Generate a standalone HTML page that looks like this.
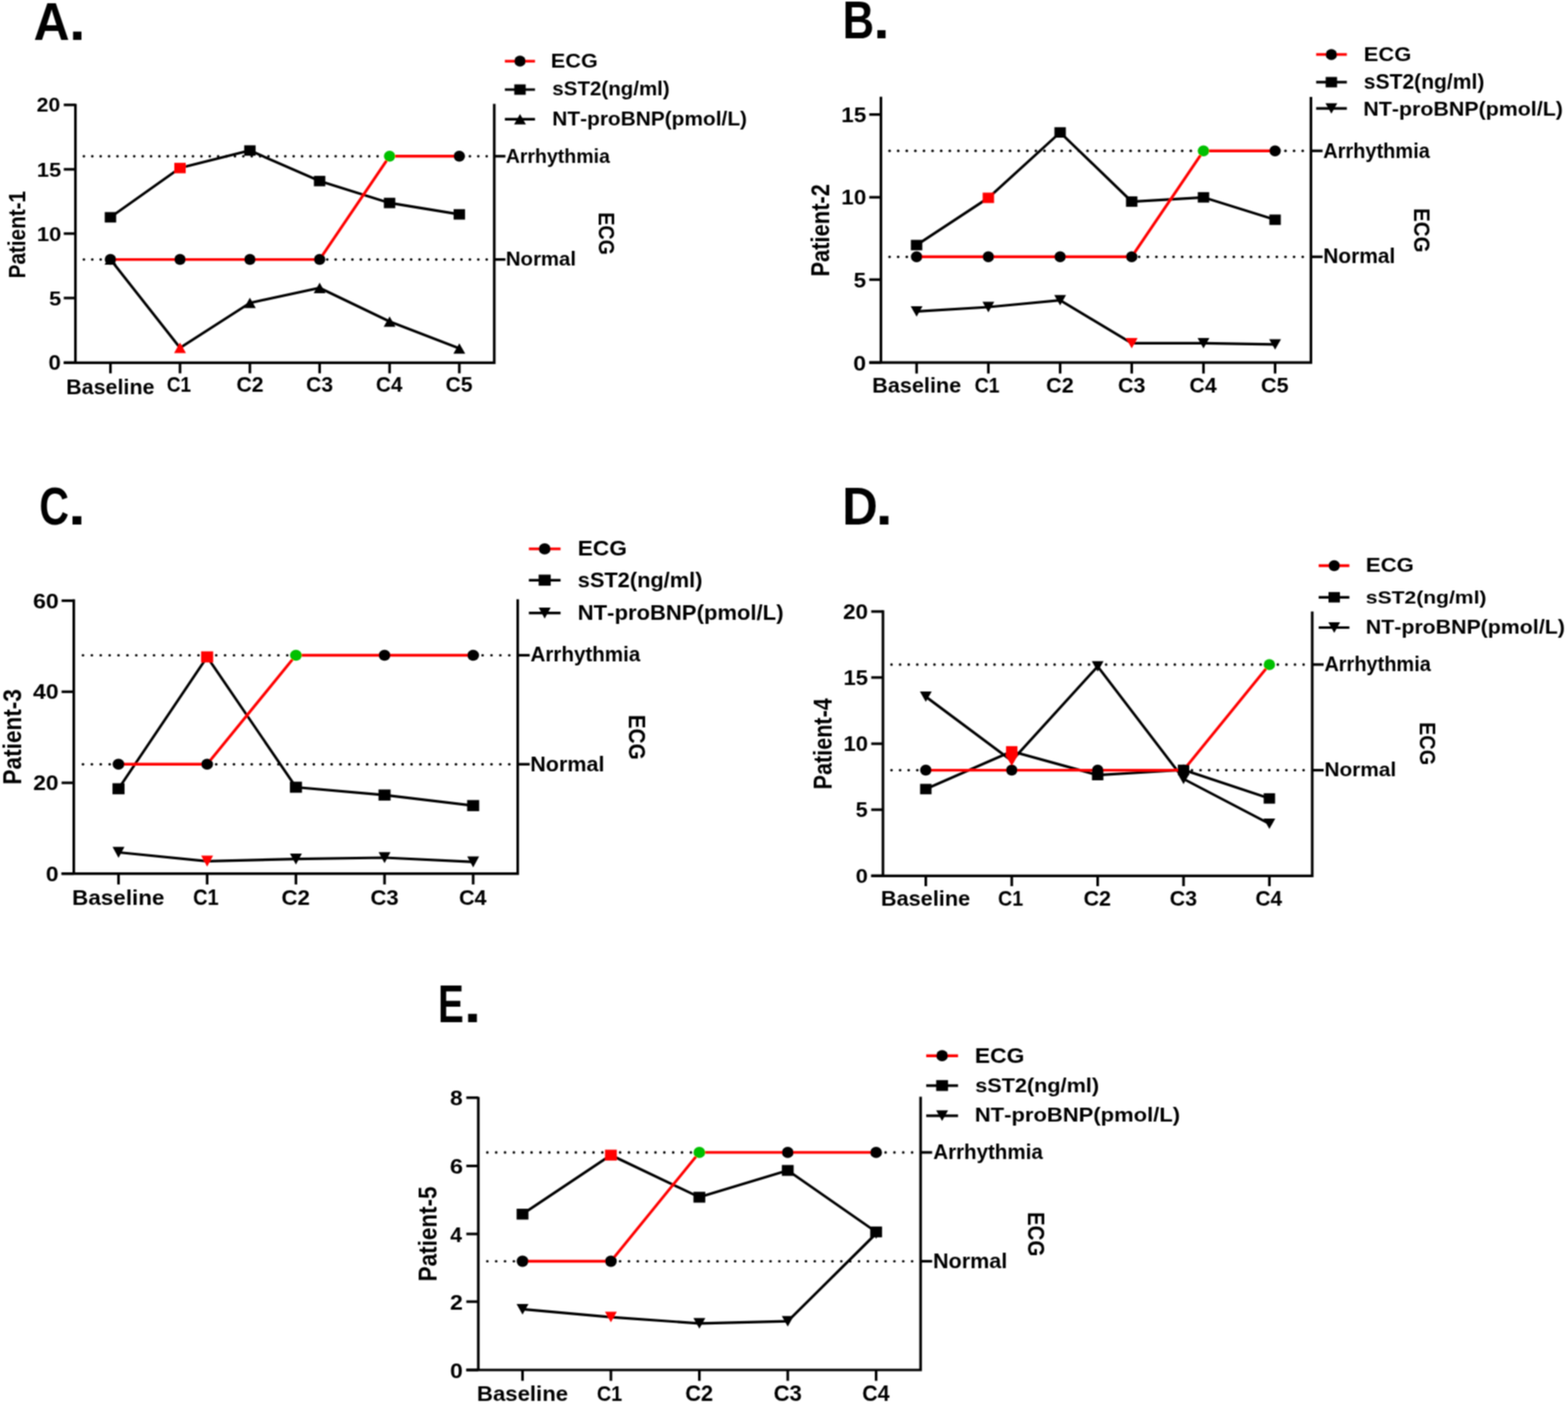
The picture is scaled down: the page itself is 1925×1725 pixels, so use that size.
<!DOCTYPE html>
<html><head><meta charset="utf-8"><title>Figure</title>
<style>html,body{margin:0;padding:0;background:#fff;}svg{display:block;}</style>
</head><body>
<svg width="1925" height="1725" viewBox="0 0 1925 1725">
<defs><filter id="soft" x="0" y="0" width="100%" height="100%" filterUnits="userSpaceOnUse"><feConvolveMatrix order="3" kernelMatrix="1 2 1 2 4 2 1 2 1" divisor="16.0" edgeMode="duplicate" preserveAlpha="false"/></filter></defs>
<rect width="1925" height="1725" fill="#fff"/>
<g filter="url(#soft)">
<g>
<path d="M92.60,127.50 V445.30 M78.30,445.30 H606.80 V127.50" fill="none" stroke="#000" stroke-width="3.2" stroke-linejoin="miter" stroke-linecap="butt"/>
<line x1="78.30" y1="128.80" x2="92.60" y2="128.80" stroke="#000" stroke-width="3.2" />
<line x1="78.30" y1="207.90" x2="92.60" y2="207.90" stroke="#000" stroke-width="3.2" />
<line x1="78.30" y1="286.80" x2="92.60" y2="286.80" stroke="#000" stroke-width="3.2" />
<line x1="78.30" y1="365.90" x2="92.60" y2="365.90" stroke="#000" stroke-width="3.2" />
<line x1="78.30" y1="445.30" x2="92.60" y2="445.30" stroke="#000" stroke-width="3.2" />
<line x1="135.60" y1="445.30" x2="135.60" y2="458.40" stroke="#000" stroke-width="3.2" />
<line x1="221.00" y1="445.30" x2="221.00" y2="458.40" stroke="#000" stroke-width="3.2" />
<line x1="306.80" y1="445.30" x2="306.80" y2="458.40" stroke="#000" stroke-width="3.2" />
<line x1="392.40" y1="445.30" x2="392.40" y2="458.40" stroke="#000" stroke-width="3.2" />
<line x1="478.30" y1="445.30" x2="478.30" y2="458.40" stroke="#000" stroke-width="3.2" />
<line x1="563.90" y1="445.30" x2="563.90" y2="458.40" stroke="#000" stroke-width="3.2" />
<line x1="606.80" y1="318.60" x2="620.50" y2="318.60" stroke="#000" stroke-width="3.2" />
<line x1="606.80" y1="191.80" x2="620.50" y2="191.80" stroke="#000" stroke-width="3.2" />
<circle cx="103.00" cy="318.60" r="1.6" fill="#000"/>
<circle cx="113.30" cy="318.60" r="1.6" fill="#000"/>
<circle cx="123.60" cy="318.60" r="1.6" fill="#000"/>
<circle cx="133.91" cy="318.60" r="1.6" fill="#000"/>
<circle cx="401.76" cy="318.60" r="1.6" fill="#000"/>
<circle cx="412.06" cy="318.60" r="1.6" fill="#000"/>
<circle cx="422.36" cy="318.60" r="1.6" fill="#000"/>
<circle cx="432.67" cy="318.60" r="1.6" fill="#000"/>
<circle cx="442.97" cy="318.60" r="1.6" fill="#000"/>
<circle cx="453.27" cy="318.60" r="1.6" fill="#000"/>
<circle cx="463.57" cy="318.60" r="1.6" fill="#000"/>
<circle cx="473.88" cy="318.60" r="1.6" fill="#000"/>
<circle cx="484.18" cy="318.60" r="1.6" fill="#000"/>
<circle cx="494.48" cy="318.60" r="1.6" fill="#000"/>
<circle cx="504.78" cy="318.60" r="1.6" fill="#000"/>
<circle cx="515.08" cy="318.60" r="1.6" fill="#000"/>
<circle cx="525.39" cy="318.60" r="1.6" fill="#000"/>
<circle cx="535.69" cy="318.60" r="1.6" fill="#000"/>
<circle cx="545.99" cy="318.60" r="1.6" fill="#000"/>
<circle cx="556.29" cy="318.60" r="1.6" fill="#000"/>
<circle cx="566.59" cy="318.60" r="1.6" fill="#000"/>
<circle cx="576.90" cy="318.60" r="1.6" fill="#000"/>
<circle cx="587.20" cy="318.60" r="1.6" fill="#000"/>
<circle cx="597.50" cy="318.60" r="1.6" fill="#000"/>
<circle cx="103.00" cy="191.80" r="1.6" fill="#000"/>
<circle cx="113.30" cy="191.80" r="1.6" fill="#000"/>
<circle cx="123.60" cy="191.80" r="1.6" fill="#000"/>
<circle cx="133.91" cy="191.80" r="1.6" fill="#000"/>
<circle cx="144.21" cy="191.80" r="1.6" fill="#000"/>
<circle cx="154.51" cy="191.80" r="1.6" fill="#000"/>
<circle cx="164.81" cy="191.80" r="1.6" fill="#000"/>
<circle cx="175.11" cy="191.80" r="1.6" fill="#000"/>
<circle cx="185.42" cy="191.80" r="1.6" fill="#000"/>
<circle cx="195.72" cy="191.80" r="1.6" fill="#000"/>
<circle cx="206.02" cy="191.80" r="1.6" fill="#000"/>
<circle cx="216.32" cy="191.80" r="1.6" fill="#000"/>
<circle cx="226.62" cy="191.80" r="1.6" fill="#000"/>
<circle cx="236.93" cy="191.80" r="1.6" fill="#000"/>
<circle cx="247.23" cy="191.80" r="1.6" fill="#000"/>
<circle cx="257.53" cy="191.80" r="1.6" fill="#000"/>
<circle cx="267.83" cy="191.80" r="1.6" fill="#000"/>
<circle cx="278.14" cy="191.80" r="1.6" fill="#000"/>
<circle cx="288.44" cy="191.80" r="1.6" fill="#000"/>
<circle cx="298.74" cy="191.80" r="1.6" fill="#000"/>
<circle cx="309.04" cy="191.80" r="1.6" fill="#000"/>
<circle cx="319.34" cy="191.80" r="1.6" fill="#000"/>
<circle cx="329.65" cy="191.80" r="1.6" fill="#000"/>
<circle cx="339.95" cy="191.80" r="1.6" fill="#000"/>
<circle cx="350.25" cy="191.80" r="1.6" fill="#000"/>
<circle cx="360.55" cy="191.80" r="1.6" fill="#000"/>
<circle cx="370.85" cy="191.80" r="1.6" fill="#000"/>
<circle cx="381.16" cy="191.80" r="1.6" fill="#000"/>
<circle cx="391.46" cy="191.80" r="1.6" fill="#000"/>
<circle cx="401.76" cy="191.80" r="1.6" fill="#000"/>
<circle cx="412.06" cy="191.80" r="1.6" fill="#000"/>
<circle cx="422.36" cy="191.80" r="1.6" fill="#000"/>
<circle cx="432.67" cy="191.80" r="1.6" fill="#000"/>
<circle cx="442.97" cy="191.80" r="1.6" fill="#000"/>
<circle cx="453.27" cy="191.80" r="1.6" fill="#000"/>
<circle cx="463.57" cy="191.80" r="1.6" fill="#000"/>
<circle cx="473.88" cy="191.80" r="1.6" fill="#000"/>
<circle cx="566.59" cy="191.80" r="1.6" fill="#000"/>
<circle cx="576.90" cy="191.80" r="1.6" fill="#000"/>
<circle cx="587.20" cy="191.80" r="1.6" fill="#000"/>
<circle cx="597.50" cy="191.80" r="1.6" fill="#000"/>
<polyline points="135.60,318.60 221.00,427.00 306.80,371.90 392.40,353.50 478.30,394.80 563.90,427.80" fill="none" stroke="#000" stroke-width="3.2" stroke-linejoin="miter"/>
<polyline points="135.60,266.80 221.00,206.30 306.80,184.80 392.40,222.30 478.30,249.20 563.90,263.20" fill="none" stroke="#000" stroke-width="3.2" stroke-linejoin="miter"/>
<polyline points="135.60,318.60 221.00,318.60 306.80,318.60 392.40,318.60 478.30,191.80 563.90,191.80" fill="none" stroke="#ff0000" stroke-width="3.4" stroke-linejoin="miter"/>
<polygon points="135.60,312.20 142.85,325.00 128.35,325.00" fill="#000"/>
<polygon points="221.00,420.60 228.25,433.40 213.75,433.40" fill="#ff0000"/>
<polygon points="306.80,365.50 314.05,378.30 299.55,378.30" fill="#000"/>
<polygon points="392.40,347.10 399.65,359.90 385.15,359.90" fill="#000"/>
<polygon points="478.30,388.40 485.55,401.20 471.05,401.20" fill="#000"/>
<polygon points="563.90,421.40 571.15,434.20 556.65,434.20" fill="#000"/>
<rect x="128.60" y="260.40" width="14.00" height="12.80" fill="#000"/>
<rect x="214.00" y="199.90" width="14.00" height="12.80" fill="#ff0000"/>
<rect x="299.80" y="178.40" width="14.00" height="12.80" fill="#000"/>
<rect x="385.40" y="215.90" width="14.00" height="12.80" fill="#000"/>
<rect x="471.30" y="242.80" width="14.00" height="12.80" fill="#000"/>
<rect x="556.90" y="256.80" width="14.00" height="12.80" fill="#000"/>
<ellipse cx="135.60" cy="318.60" rx="7.00" ry="6.75" fill="#000"/>
<ellipse cx="221.00" cy="318.60" rx="7.00" ry="6.75" fill="#000"/>
<ellipse cx="306.80" cy="318.60" rx="7.00" ry="6.75" fill="#000"/>
<ellipse cx="392.40" cy="318.60" rx="7.00" ry="6.75" fill="#000"/>
<ellipse cx="478.30" cy="191.80" rx="7.00" ry="6.75" fill="#00c000"/>
<ellipse cx="563.90" cy="191.80" rx="7.00" ry="6.75" fill="#000"/>
<line x1="619.80" y1="75.10" x2="656.80" y2="75.10" stroke="#ff0000" stroke-width="3.4" />
<ellipse cx="638.40" cy="75.10" rx="7.00" ry="6.75" fill="#000"/>
<line x1="619.80" y1="110.00" x2="656.80" y2="110.00" stroke="#000" stroke-width="3.2" />
<rect x="631.40" y="103.60" width="14.00" height="12.80" fill="#000"/>
<line x1="619.80" y1="146.30" x2="656.80" y2="146.30" stroke="#000" stroke-width="3.2" />
<polygon points="638.40,139.90 645.65,152.70 631.15,152.70" fill="#000"/>
<path d="M1081.50,118.80 V445.20 M1067.20,445.20 H1609.40 V119.10" fill="none" stroke="#000" stroke-width="3.2" stroke-linejoin="miter" stroke-linecap="butt"/>
<line x1="1067.20" y1="140.60" x2="1081.50" y2="140.60" stroke="#000" stroke-width="3.2" />
<line x1="1067.20" y1="242.20" x2="1081.50" y2="242.20" stroke="#000" stroke-width="3.2" />
<line x1="1067.20" y1="343.30" x2="1081.50" y2="343.30" stroke="#000" stroke-width="3.2" />
<line x1="1067.20" y1="445.20" x2="1081.50" y2="445.20" stroke="#000" stroke-width="3.2" />
<line x1="1125.30" y1="445.20" x2="1125.30" y2="458.60" stroke="#000" stroke-width="3.2" />
<line x1="1213.40" y1="445.20" x2="1213.40" y2="458.60" stroke="#000" stroke-width="3.2" />
<line x1="1301.50" y1="445.20" x2="1301.50" y2="458.60" stroke="#000" stroke-width="3.2" />
<line x1="1389.40" y1="445.20" x2="1389.40" y2="458.60" stroke="#000" stroke-width="3.2" />
<line x1="1477.50" y1="445.20" x2="1477.50" y2="458.60" stroke="#000" stroke-width="3.2" />
<line x1="1565.40" y1="445.20" x2="1565.40" y2="458.60" stroke="#000" stroke-width="3.2" />
<line x1="1609.40" y1="315.30" x2="1623.70" y2="315.30" stroke="#000" stroke-width="3.2" />
<line x1="1609.40" y1="185.20" x2="1623.70" y2="185.20" stroke="#000" stroke-width="3.2" />
<circle cx="1092.10" cy="315.30" r="1.6" fill="#000"/>
<circle cx="1102.67" cy="315.30" r="1.6" fill="#000"/>
<circle cx="1113.23" cy="315.30" r="1.6" fill="#000"/>
<circle cx="1123.80" cy="315.30" r="1.6" fill="#000"/>
<circle cx="1398.53" cy="315.30" r="1.6" fill="#000"/>
<circle cx="1409.10" cy="315.30" r="1.6" fill="#000"/>
<circle cx="1419.67" cy="315.30" r="1.6" fill="#000"/>
<circle cx="1430.23" cy="315.30" r="1.6" fill="#000"/>
<circle cx="1440.80" cy="315.30" r="1.6" fill="#000"/>
<circle cx="1451.37" cy="315.30" r="1.6" fill="#000"/>
<circle cx="1461.93" cy="315.30" r="1.6" fill="#000"/>
<circle cx="1472.50" cy="315.30" r="1.6" fill="#000"/>
<circle cx="1483.07" cy="315.30" r="1.6" fill="#000"/>
<circle cx="1493.63" cy="315.30" r="1.6" fill="#000"/>
<circle cx="1504.20" cy="315.30" r="1.6" fill="#000"/>
<circle cx="1514.77" cy="315.30" r="1.6" fill="#000"/>
<circle cx="1525.33" cy="315.30" r="1.6" fill="#000"/>
<circle cx="1535.90" cy="315.30" r="1.6" fill="#000"/>
<circle cx="1546.47" cy="315.30" r="1.6" fill="#000"/>
<circle cx="1557.03" cy="315.30" r="1.6" fill="#000"/>
<circle cx="1567.60" cy="315.30" r="1.6" fill="#000"/>
<circle cx="1578.17" cy="315.30" r="1.6" fill="#000"/>
<circle cx="1588.73" cy="315.30" r="1.6" fill="#000"/>
<circle cx="1599.30" cy="315.30" r="1.6" fill="#000"/>
<circle cx="1092.10" cy="185.20" r="1.6" fill="#000"/>
<circle cx="1102.67" cy="185.20" r="1.6" fill="#000"/>
<circle cx="1113.23" cy="185.20" r="1.6" fill="#000"/>
<circle cx="1123.80" cy="185.20" r="1.6" fill="#000"/>
<circle cx="1134.37" cy="185.20" r="1.6" fill="#000"/>
<circle cx="1144.93" cy="185.20" r="1.6" fill="#000"/>
<circle cx="1155.50" cy="185.20" r="1.6" fill="#000"/>
<circle cx="1166.07" cy="185.20" r="1.6" fill="#000"/>
<circle cx="1176.63" cy="185.20" r="1.6" fill="#000"/>
<circle cx="1187.20" cy="185.20" r="1.6" fill="#000"/>
<circle cx="1197.77" cy="185.20" r="1.6" fill="#000"/>
<circle cx="1208.33" cy="185.20" r="1.6" fill="#000"/>
<circle cx="1218.90" cy="185.20" r="1.6" fill="#000"/>
<circle cx="1229.47" cy="185.20" r="1.6" fill="#000"/>
<circle cx="1240.03" cy="185.20" r="1.6" fill="#000"/>
<circle cx="1250.60" cy="185.20" r="1.6" fill="#000"/>
<circle cx="1261.17" cy="185.20" r="1.6" fill="#000"/>
<circle cx="1271.73" cy="185.20" r="1.6" fill="#000"/>
<circle cx="1282.30" cy="185.20" r="1.6" fill="#000"/>
<circle cx="1292.87" cy="185.20" r="1.6" fill="#000"/>
<circle cx="1303.43" cy="185.20" r="1.6" fill="#000"/>
<circle cx="1314.00" cy="185.20" r="1.6" fill="#000"/>
<circle cx="1324.57" cy="185.20" r="1.6" fill="#000"/>
<circle cx="1335.13" cy="185.20" r="1.6" fill="#000"/>
<circle cx="1345.70" cy="185.20" r="1.6" fill="#000"/>
<circle cx="1356.27" cy="185.20" r="1.6" fill="#000"/>
<circle cx="1366.83" cy="185.20" r="1.6" fill="#000"/>
<circle cx="1377.40" cy="185.20" r="1.6" fill="#000"/>
<circle cx="1387.97" cy="185.20" r="1.6" fill="#000"/>
<circle cx="1398.53" cy="185.20" r="1.6" fill="#000"/>
<circle cx="1409.10" cy="185.20" r="1.6" fill="#000"/>
<circle cx="1419.67" cy="185.20" r="1.6" fill="#000"/>
<circle cx="1430.23" cy="185.20" r="1.6" fill="#000"/>
<circle cx="1440.80" cy="185.20" r="1.6" fill="#000"/>
<circle cx="1451.37" cy="185.20" r="1.6" fill="#000"/>
<circle cx="1461.93" cy="185.20" r="1.6" fill="#000"/>
<circle cx="1472.50" cy="185.20" r="1.6" fill="#000"/>
<circle cx="1567.60" cy="185.20" r="1.6" fill="#000"/>
<circle cx="1578.17" cy="185.20" r="1.6" fill="#000"/>
<circle cx="1588.73" cy="185.20" r="1.6" fill="#000"/>
<circle cx="1599.30" cy="185.20" r="1.6" fill="#000"/>
<polyline points="1125.30,382.30 1213.40,377.00 1301.50,368.70 1389.40,421.40 1477.50,421.40 1565.40,422.80" fill="none" stroke="#000" stroke-width="3.2" stroke-linejoin="miter"/>
<polyline points="1125.30,300.90 1213.40,242.90 1301.50,162.60 1389.40,247.50 1477.50,242.30 1565.40,269.80" fill="none" stroke="#000" stroke-width="3.2" stroke-linejoin="miter"/>
<polyline points="1125.30,315.30 1213.40,315.30 1301.50,315.30 1389.40,315.30 1477.50,185.20 1565.40,185.20" fill="none" stroke="#ff0000" stroke-width="3.4" stroke-linejoin="miter"/>
<polygon points="1125.30,388.70 1132.55,375.90 1118.05,375.90" fill="#000"/>
<polygon points="1213.40,383.40 1220.65,370.60 1206.15,370.60" fill="#000"/>
<polygon points="1301.50,375.10 1308.75,362.30 1294.25,362.30" fill="#000"/>
<polygon points="1389.40,427.80 1396.65,415.00 1382.15,415.00" fill="#ff0000"/>
<polygon points="1477.50,427.80 1484.75,415.00 1470.25,415.00" fill="#000"/>
<polygon points="1565.40,429.20 1572.65,416.40 1558.15,416.40" fill="#000"/>
<rect x="1118.30" y="294.50" width="14.00" height="12.80" fill="#000"/>
<rect x="1206.40" y="236.50" width="14.00" height="12.80" fill="#ff0000"/>
<rect x="1294.50" y="156.20" width="14.00" height="12.80" fill="#000"/>
<rect x="1382.40" y="241.10" width="14.00" height="12.80" fill="#000"/>
<rect x="1470.50" y="235.90" width="14.00" height="12.80" fill="#000"/>
<rect x="1558.40" y="263.40" width="14.00" height="12.80" fill="#000"/>
<ellipse cx="1125.30" cy="315.30" rx="7.00" ry="6.75" fill="#000"/>
<ellipse cx="1213.40" cy="315.30" rx="7.00" ry="6.75" fill="#000"/>
<ellipse cx="1301.50" cy="315.30" rx="7.00" ry="6.75" fill="#000"/>
<ellipse cx="1389.40" cy="315.30" rx="7.00" ry="6.75" fill="#000"/>
<ellipse cx="1477.50" cy="185.20" rx="7.00" ry="6.75" fill="#00c000"/>
<ellipse cx="1565.40" cy="185.20" rx="7.00" ry="6.75" fill="#000"/>
<line x1="1615.80" y1="66.90" x2="1653.50" y2="66.90" stroke="#ff0000" stroke-width="3.4" />
<ellipse cx="1634.50" cy="66.90" rx="7.00" ry="6.75" fill="#000"/>
<line x1="1615.80" y1="100.90" x2="1653.50" y2="100.90" stroke="#000" stroke-width="3.2" />
<rect x="1627.50" y="94.50" width="14.00" height="12.80" fill="#000"/>
<line x1="1615.80" y1="133.20" x2="1653.50" y2="133.20" stroke="#000" stroke-width="3.2" />
<polygon points="1634.50,139.60 1641.75,126.80 1627.25,126.80" fill="#000"/>
<path d="M90.60,735.80 V1072.60 M75.60,1072.60 H635.60 V735.80" fill="none" stroke="#000" stroke-width="3.2" stroke-linejoin="miter" stroke-linecap="butt"/>
<line x1="75.60" y1="737.50" x2="90.60" y2="737.50" stroke="#000" stroke-width="3.2" />
<line x1="75.60" y1="849.30" x2="90.60" y2="849.30" stroke="#000" stroke-width="3.2" />
<line x1="75.60" y1="961.10" x2="90.60" y2="961.10" stroke="#000" stroke-width="3.2" />
<line x1="75.60" y1="1072.60" x2="90.60" y2="1072.60" stroke="#000" stroke-width="3.2" />
<line x1="145.50" y1="1072.60" x2="145.50" y2="1085.90" stroke="#000" stroke-width="3.2" />
<line x1="254.30" y1="1072.60" x2="254.30" y2="1085.90" stroke="#000" stroke-width="3.2" />
<line x1="363.30" y1="1072.60" x2="363.30" y2="1085.90" stroke="#000" stroke-width="3.2" />
<line x1="472.10" y1="1072.60" x2="472.10" y2="1085.90" stroke="#000" stroke-width="3.2" />
<line x1="580.90" y1="1072.60" x2="580.90" y2="1085.90" stroke="#000" stroke-width="3.2" />
<line x1="635.60" y1="938.30" x2="650.30" y2="938.30" stroke="#000" stroke-width="3.2" />
<line x1="635.60" y1="804.50" x2="650.30" y2="804.50" stroke="#000" stroke-width="3.2" />
<circle cx="101.90" cy="938.30" r="1.6" fill="#000"/>
<circle cx="112.80" cy="938.30" r="1.6" fill="#000"/>
<circle cx="123.70" cy="938.30" r="1.6" fill="#000"/>
<circle cx="134.61" cy="938.30" r="1.6" fill="#000"/>
<circle cx="265.43" cy="938.30" r="1.6" fill="#000"/>
<circle cx="276.33" cy="938.30" r="1.6" fill="#000"/>
<circle cx="287.24" cy="938.30" r="1.6" fill="#000"/>
<circle cx="298.14" cy="938.30" r="1.6" fill="#000"/>
<circle cx="309.04" cy="938.30" r="1.6" fill="#000"/>
<circle cx="319.94" cy="938.30" r="1.6" fill="#000"/>
<circle cx="330.84" cy="938.30" r="1.6" fill="#000"/>
<circle cx="341.75" cy="938.30" r="1.6" fill="#000"/>
<circle cx="352.65" cy="938.30" r="1.6" fill="#000"/>
<circle cx="363.55" cy="938.30" r="1.6" fill="#000"/>
<circle cx="374.45" cy="938.30" r="1.6" fill="#000"/>
<circle cx="385.35" cy="938.30" r="1.6" fill="#000"/>
<circle cx="396.26" cy="938.30" r="1.6" fill="#000"/>
<circle cx="407.16" cy="938.30" r="1.6" fill="#000"/>
<circle cx="418.06" cy="938.30" r="1.6" fill="#000"/>
<circle cx="428.96" cy="938.30" r="1.6" fill="#000"/>
<circle cx="439.86" cy="938.30" r="1.6" fill="#000"/>
<circle cx="450.77" cy="938.30" r="1.6" fill="#000"/>
<circle cx="461.67" cy="938.30" r="1.6" fill="#000"/>
<circle cx="472.57" cy="938.30" r="1.6" fill="#000"/>
<circle cx="483.47" cy="938.30" r="1.6" fill="#000"/>
<circle cx="494.38" cy="938.30" r="1.6" fill="#000"/>
<circle cx="505.28" cy="938.30" r="1.6" fill="#000"/>
<circle cx="516.18" cy="938.30" r="1.6" fill="#000"/>
<circle cx="527.08" cy="938.30" r="1.6" fill="#000"/>
<circle cx="537.98" cy="938.30" r="1.6" fill="#000"/>
<circle cx="548.89" cy="938.30" r="1.6" fill="#000"/>
<circle cx="559.79" cy="938.30" r="1.6" fill="#000"/>
<circle cx="570.69" cy="938.30" r="1.6" fill="#000"/>
<circle cx="581.59" cy="938.30" r="1.6" fill="#000"/>
<circle cx="592.49" cy="938.30" r="1.6" fill="#000"/>
<circle cx="603.40" cy="938.30" r="1.6" fill="#000"/>
<circle cx="614.30" cy="938.30" r="1.6" fill="#000"/>
<circle cx="625.20" cy="938.30" r="1.6" fill="#000"/>
<circle cx="101.90" cy="804.50" r="1.6" fill="#000"/>
<circle cx="112.80" cy="804.50" r="1.6" fill="#000"/>
<circle cx="123.70" cy="804.50" r="1.6" fill="#000"/>
<circle cx="134.61" cy="804.50" r="1.6" fill="#000"/>
<circle cx="145.51" cy="804.50" r="1.6" fill="#000"/>
<circle cx="156.41" cy="804.50" r="1.6" fill="#000"/>
<circle cx="167.31" cy="804.50" r="1.6" fill="#000"/>
<circle cx="178.21" cy="804.50" r="1.6" fill="#000"/>
<circle cx="189.12" cy="804.50" r="1.6" fill="#000"/>
<circle cx="200.02" cy="804.50" r="1.6" fill="#000"/>
<circle cx="210.92" cy="804.50" r="1.6" fill="#000"/>
<circle cx="221.82" cy="804.50" r="1.6" fill="#000"/>
<circle cx="232.73" cy="804.50" r="1.6" fill="#000"/>
<circle cx="243.63" cy="804.50" r="1.6" fill="#000"/>
<circle cx="254.53" cy="804.50" r="1.6" fill="#000"/>
<circle cx="265.43" cy="804.50" r="1.6" fill="#000"/>
<circle cx="276.33" cy="804.50" r="1.6" fill="#000"/>
<circle cx="287.24" cy="804.50" r="1.6" fill="#000"/>
<circle cx="298.14" cy="804.50" r="1.6" fill="#000"/>
<circle cx="309.04" cy="804.50" r="1.6" fill="#000"/>
<circle cx="319.94" cy="804.50" r="1.6" fill="#000"/>
<circle cx="330.84" cy="804.50" r="1.6" fill="#000"/>
<circle cx="341.75" cy="804.50" r="1.6" fill="#000"/>
<circle cx="352.65" cy="804.50" r="1.6" fill="#000"/>
<circle cx="581.59" cy="804.50" r="1.6" fill="#000"/>
<circle cx="592.49" cy="804.50" r="1.6" fill="#000"/>
<circle cx="603.40" cy="804.50" r="1.6" fill="#000"/>
<circle cx="614.30" cy="804.50" r="1.6" fill="#000"/>
<circle cx="625.20" cy="804.50" r="1.6" fill="#000"/>
<polyline points="145.50,1046.50 254.30,1057.30 363.30,1054.70 472.10,1053.00 580.90,1058.30" fill="none" stroke="#000" stroke-width="3.2" stroke-linejoin="miter"/>
<polyline points="145.50,968.40 254.30,806.50 363.30,966.50 472.10,976.10 580.90,989.10" fill="none" stroke="#000" stroke-width="3.2" stroke-linejoin="miter"/>
<polyline points="145.50,938.30 254.30,938.30 363.30,804.50 472.10,804.50 580.90,804.50" fill="none" stroke="#ff0000" stroke-width="3.4" stroke-linejoin="miter"/>
<polygon points="145.50,1053.30 152.80,1039.70 138.20,1039.70" fill="#000"/>
<polygon points="254.30,1064.10 261.60,1050.50 247.00,1050.50" fill="#ff0000"/>
<polygon points="363.30,1061.50 370.60,1047.90 356.00,1047.90" fill="#000"/>
<polygon points="472.10,1059.80 479.40,1046.20 464.80,1046.20" fill="#000"/>
<polygon points="580.90,1065.10 588.20,1051.50 573.60,1051.50" fill="#000"/>
<rect x="138.10" y="961.60" width="14.80" height="13.60" fill="#000"/>
<rect x="246.90" y="799.70" width="14.80" height="13.60" fill="#ff0000"/>
<rect x="355.90" y="959.70" width="14.80" height="13.60" fill="#000"/>
<rect x="464.70" y="969.30" width="14.80" height="13.60" fill="#000"/>
<rect x="573.50" y="982.30" width="14.80" height="13.60" fill="#000"/>
<ellipse cx="145.50" cy="938.30" rx="7.25" ry="6.80" fill="#000"/>
<ellipse cx="254.30" cy="938.30" rx="7.25" ry="6.80" fill="#000"/>
<ellipse cx="363.30" cy="804.50" rx="7.25" ry="6.80" fill="#00c000"/>
<ellipse cx="472.10" cy="804.50" rx="7.25" ry="6.80" fill="#000"/>
<ellipse cx="580.90" cy="804.50" rx="7.25" ry="6.80" fill="#000"/>
<line x1="649.30" y1="673.90" x2="688.20" y2="673.90" stroke="#ff0000" stroke-width="3.4" />
<ellipse cx="668.70" cy="673.90" rx="7.25" ry="6.80" fill="#000"/>
<line x1="649.30" y1="712.30" x2="688.20" y2="712.30" stroke="#000" stroke-width="3.2" />
<rect x="661.30" y="705.50" width="14.80" height="13.60" fill="#000"/>
<line x1="649.30" y1="752.70" x2="688.20" y2="752.70" stroke="#000" stroke-width="3.2" />
<polygon points="668.70,759.50 676.00,745.90 661.40,745.90" fill="#000"/>
<path d="M1084.00,749.30 V1075.30 M1069.60,1075.30 H1611.00 V750.70" fill="none" stroke="#000" stroke-width="3.2" stroke-linejoin="miter" stroke-linecap="butt"/>
<line x1="1069.60" y1="750.80" x2="1084.00" y2="750.80" stroke="#000" stroke-width="3.2" />
<line x1="1069.60" y1="831.80" x2="1084.00" y2="831.80" stroke="#000" stroke-width="3.2" />
<line x1="1069.60" y1="913.10" x2="1084.00" y2="913.10" stroke="#000" stroke-width="3.2" />
<line x1="1069.60" y1="994.10" x2="1084.00" y2="994.10" stroke="#000" stroke-width="3.2" />
<line x1="1069.60" y1="1075.30" x2="1084.00" y2="1075.30" stroke="#000" stroke-width="3.2" />
<line x1="1136.60" y1="1075.30" x2="1136.60" y2="1088.00" stroke="#000" stroke-width="3.2" />
<line x1="1242.10" y1="1075.30" x2="1242.10" y2="1088.00" stroke="#000" stroke-width="3.2" />
<line x1="1347.60" y1="1075.30" x2="1347.60" y2="1088.00" stroke="#000" stroke-width="3.2" />
<line x1="1453.00" y1="1075.30" x2="1453.00" y2="1088.00" stroke="#000" stroke-width="3.2" />
<line x1="1558.40" y1="1075.30" x2="1558.40" y2="1088.00" stroke="#000" stroke-width="3.2" />
<line x1="1611.00" y1="945.60" x2="1625.00" y2="945.60" stroke="#000" stroke-width="3.2" />
<line x1="1611.00" y1="815.90" x2="1625.00" y2="815.90" stroke="#000" stroke-width="3.2" />
<circle cx="1094.50" cy="945.60" r="1.6" fill="#000"/>
<circle cx="1105.04" cy="945.60" r="1.6" fill="#000"/>
<circle cx="1115.58" cy="945.60" r="1.6" fill="#000"/>
<circle cx="1126.12" cy="945.60" r="1.6" fill="#000"/>
<circle cx="1463.39" cy="945.60" r="1.6" fill="#000"/>
<circle cx="1473.93" cy="945.60" r="1.6" fill="#000"/>
<circle cx="1484.46" cy="945.60" r="1.6" fill="#000"/>
<circle cx="1495.00" cy="945.60" r="1.6" fill="#000"/>
<circle cx="1505.54" cy="945.60" r="1.6" fill="#000"/>
<circle cx="1516.08" cy="945.60" r="1.6" fill="#000"/>
<circle cx="1526.62" cy="945.60" r="1.6" fill="#000"/>
<circle cx="1537.16" cy="945.60" r="1.6" fill="#000"/>
<circle cx="1547.70" cy="945.60" r="1.6" fill="#000"/>
<circle cx="1558.24" cy="945.60" r="1.6" fill="#000"/>
<circle cx="1568.78" cy="945.60" r="1.6" fill="#000"/>
<circle cx="1579.32" cy="945.60" r="1.6" fill="#000"/>
<circle cx="1589.86" cy="945.60" r="1.6" fill="#000"/>
<circle cx="1600.40" cy="945.60" r="1.6" fill="#000"/>
<circle cx="1094.50" cy="815.90" r="1.6" fill="#000"/>
<circle cx="1105.04" cy="815.90" r="1.6" fill="#000"/>
<circle cx="1115.58" cy="815.90" r="1.6" fill="#000"/>
<circle cx="1126.12" cy="815.90" r="1.6" fill="#000"/>
<circle cx="1136.66" cy="815.90" r="1.6" fill="#000"/>
<circle cx="1147.20" cy="815.90" r="1.6" fill="#000"/>
<circle cx="1157.74" cy="815.90" r="1.6" fill="#000"/>
<circle cx="1168.28" cy="815.90" r="1.6" fill="#000"/>
<circle cx="1178.82" cy="815.90" r="1.6" fill="#000"/>
<circle cx="1189.36" cy="815.90" r="1.6" fill="#000"/>
<circle cx="1199.90" cy="815.90" r="1.6" fill="#000"/>
<circle cx="1210.44" cy="815.90" r="1.6" fill="#000"/>
<circle cx="1220.97" cy="815.90" r="1.6" fill="#000"/>
<circle cx="1231.51" cy="815.90" r="1.6" fill="#000"/>
<circle cx="1242.05" cy="815.90" r="1.6" fill="#000"/>
<circle cx="1252.59" cy="815.90" r="1.6" fill="#000"/>
<circle cx="1263.13" cy="815.90" r="1.6" fill="#000"/>
<circle cx="1273.67" cy="815.90" r="1.6" fill="#000"/>
<circle cx="1284.21" cy="815.90" r="1.6" fill="#000"/>
<circle cx="1294.75" cy="815.90" r="1.6" fill="#000"/>
<circle cx="1305.29" cy="815.90" r="1.6" fill="#000"/>
<circle cx="1315.83" cy="815.90" r="1.6" fill="#000"/>
<circle cx="1326.37" cy="815.90" r="1.6" fill="#000"/>
<circle cx="1336.91" cy="815.90" r="1.6" fill="#000"/>
<circle cx="1347.45" cy="815.90" r="1.6" fill="#000"/>
<circle cx="1357.99" cy="815.90" r="1.6" fill="#000"/>
<circle cx="1368.53" cy="815.90" r="1.6" fill="#000"/>
<circle cx="1379.07" cy="815.90" r="1.6" fill="#000"/>
<circle cx="1389.61" cy="815.90" r="1.6" fill="#000"/>
<circle cx="1400.15" cy="815.90" r="1.6" fill="#000"/>
<circle cx="1410.69" cy="815.90" r="1.6" fill="#000"/>
<circle cx="1421.23" cy="815.90" r="1.6" fill="#000"/>
<circle cx="1431.77" cy="815.90" r="1.6" fill="#000"/>
<circle cx="1442.31" cy="815.90" r="1.6" fill="#000"/>
<circle cx="1452.85" cy="815.90" r="1.6" fill="#000"/>
<circle cx="1463.39" cy="815.90" r="1.6" fill="#000"/>
<circle cx="1473.93" cy="815.90" r="1.6" fill="#000"/>
<circle cx="1484.46" cy="815.90" r="1.6" fill="#000"/>
<circle cx="1495.00" cy="815.90" r="1.6" fill="#000"/>
<circle cx="1505.54" cy="815.90" r="1.6" fill="#000"/>
<circle cx="1516.08" cy="815.90" r="1.6" fill="#000"/>
<circle cx="1526.62" cy="815.90" r="1.6" fill="#000"/>
<circle cx="1537.16" cy="815.90" r="1.6" fill="#000"/>
<circle cx="1547.70" cy="815.90" r="1.6" fill="#000"/>
<circle cx="1558.24" cy="815.90" r="1.6" fill="#000"/>
<circle cx="1568.78" cy="815.90" r="1.6" fill="#000"/>
<circle cx="1579.32" cy="815.90" r="1.6" fill="#000"/>
<circle cx="1589.86" cy="815.90" r="1.6" fill="#000"/>
<circle cx="1600.40" cy="815.90" r="1.6" fill="#000"/>
<polyline points="1136.60,855.40 1242.10,934.10 1347.60,818.20 1453.00,956.30 1558.40,1011.30" fill="none" stroke="#000" stroke-width="3.2" stroke-linejoin="miter"/>
<polyline points="1136.60,968.80 1242.10,922.50 1347.60,951.60 1453.00,945.20 1558.40,980.30" fill="none" stroke="#000" stroke-width="3.2" stroke-linejoin="miter"/>
<polyline points="1136.60,945.60 1242.10,945.60 1347.60,945.60 1453.00,945.60 1558.40,815.90" fill="none" stroke="#ff0000" stroke-width="3.4" stroke-linejoin="miter"/>
<polygon points="1136.60,861.80 1143.85,849.00 1129.35,849.00" fill="#000"/>
<polygon points="1242.10,940.50 1249.35,927.70 1234.85,927.70" fill="#ff0000"/>
<polygon points="1347.60,824.60 1354.85,811.80 1340.35,811.80" fill="#000"/>
<polygon points="1453.00,962.70 1460.25,949.90 1445.75,949.90" fill="#000"/>
<polygon points="1558.40,1017.70 1565.65,1004.90 1551.15,1004.90" fill="#000"/>
<rect x="1129.60" y="962.40" width="14.00" height="12.80" fill="#000"/>
<rect x="1235.10" y="916.10" width="14.00" height="12.80" fill="#ff0000"/>
<rect x="1340.60" y="945.20" width="14.00" height="12.80" fill="#000"/>
<rect x="1446.00" y="938.80" width="14.00" height="12.80" fill="#000"/>
<rect x="1551.40" y="973.90" width="14.00" height="12.80" fill="#000"/>
<ellipse cx="1136.60" cy="945.60" rx="7.00" ry="6.75" fill="#000"/>
<ellipse cx="1242.10" cy="945.60" rx="7.00" ry="6.75" fill="#000"/>
<ellipse cx="1347.60" cy="945.60" rx="7.00" ry="6.75" fill="#000"/>
<ellipse cx="1453.00" cy="945.60" rx="7.00" ry="6.75" fill="#000"/>
<ellipse cx="1558.40" cy="815.90" rx="7.00" ry="6.75" fill="#00c000"/>
<line x1="1618.90" y1="694.50" x2="1656.60" y2="694.50" stroke="#ff0000" stroke-width="3.4" />
<ellipse cx="1638.00" cy="694.50" rx="7.00" ry="6.75" fill="#000"/>
<line x1="1618.90" y1="733.30" x2="1656.60" y2="733.30" stroke="#000" stroke-width="3.2" />
<rect x="1631.00" y="726.90" width="14.00" height="12.80" fill="#000"/>
<line x1="1618.90" y1="770.50" x2="1656.60" y2="770.50" stroke="#000" stroke-width="3.2" />
<polygon points="1638.00,776.90 1645.25,764.10 1630.75,764.10" fill="#000"/>
<path d="M587.20,1346.70 V1682.00 M572.50,1682.00 H1130.20 V1346.50" fill="none" stroke="#000" stroke-width="3.2" stroke-linejoin="miter" stroke-linecap="butt"/>
<line x1="572.50" y1="1347.70" x2="587.20" y2="1347.70" stroke="#000" stroke-width="3.2" />
<line x1="572.50" y1="1431.50" x2="587.20" y2="1431.50" stroke="#000" stroke-width="3.2" />
<line x1="572.50" y1="1515.00" x2="587.20" y2="1515.00" stroke="#000" stroke-width="3.2" />
<line x1="572.50" y1="1598.10" x2="587.20" y2="1598.10" stroke="#000" stroke-width="3.2" />
<line x1="572.50" y1="1682.00" x2="587.20" y2="1682.00" stroke="#000" stroke-width="3.2" />
<line x1="641.50" y1="1682.00" x2="641.50" y2="1695.30" stroke="#000" stroke-width="3.2" />
<line x1="750.00" y1="1682.00" x2="750.00" y2="1695.30" stroke="#000" stroke-width="3.2" />
<line x1="858.60" y1="1682.00" x2="858.60" y2="1695.30" stroke="#000" stroke-width="3.2" />
<line x1="967.10" y1="1682.00" x2="967.10" y2="1695.30" stroke="#000" stroke-width="3.2" />
<line x1="1075.60" y1="1682.00" x2="1075.60" y2="1695.30" stroke="#000" stroke-width="3.2" />
<line x1="1130.20" y1="1548.50" x2="1144.40" y2="1548.50" stroke="#000" stroke-width="3.2" />
<line x1="1130.20" y1="1414.90" x2="1144.40" y2="1414.90" stroke="#000" stroke-width="3.2" />
<circle cx="598.30" cy="1548.50" r="1.6" fill="#000"/>
<circle cx="609.16" cy="1548.50" r="1.6" fill="#000"/>
<circle cx="620.03" cy="1548.50" r="1.6" fill="#000"/>
<circle cx="630.89" cy="1548.50" r="1.6" fill="#000"/>
<circle cx="761.27" cy="1548.50" r="1.6" fill="#000"/>
<circle cx="772.13" cy="1548.50" r="1.6" fill="#000"/>
<circle cx="783.00" cy="1548.50" r="1.6" fill="#000"/>
<circle cx="793.86" cy="1548.50" r="1.6" fill="#000"/>
<circle cx="804.73" cy="1548.50" r="1.6" fill="#000"/>
<circle cx="815.59" cy="1548.50" r="1.6" fill="#000"/>
<circle cx="826.46" cy="1548.50" r="1.6" fill="#000"/>
<circle cx="837.32" cy="1548.50" r="1.6" fill="#000"/>
<circle cx="848.19" cy="1548.50" r="1.6" fill="#000"/>
<circle cx="859.05" cy="1548.50" r="1.6" fill="#000"/>
<circle cx="869.91" cy="1548.50" r="1.6" fill="#000"/>
<circle cx="880.78" cy="1548.50" r="1.6" fill="#000"/>
<circle cx="891.64" cy="1548.50" r="1.6" fill="#000"/>
<circle cx="902.51" cy="1548.50" r="1.6" fill="#000"/>
<circle cx="913.37" cy="1548.50" r="1.6" fill="#000"/>
<circle cx="924.24" cy="1548.50" r="1.6" fill="#000"/>
<circle cx="935.10" cy="1548.50" r="1.6" fill="#000"/>
<circle cx="945.97" cy="1548.50" r="1.6" fill="#000"/>
<circle cx="956.83" cy="1548.50" r="1.6" fill="#000"/>
<circle cx="967.70" cy="1548.50" r="1.6" fill="#000"/>
<circle cx="978.56" cy="1548.50" r="1.6" fill="#000"/>
<circle cx="989.42" cy="1548.50" r="1.6" fill="#000"/>
<circle cx="1000.29" cy="1548.50" r="1.6" fill="#000"/>
<circle cx="1011.15" cy="1548.50" r="1.6" fill="#000"/>
<circle cx="1022.02" cy="1548.50" r="1.6" fill="#000"/>
<circle cx="1032.88" cy="1548.50" r="1.6" fill="#000"/>
<circle cx="1043.75" cy="1548.50" r="1.6" fill="#000"/>
<circle cx="1054.61" cy="1548.50" r="1.6" fill="#000"/>
<circle cx="1065.48" cy="1548.50" r="1.6" fill="#000"/>
<circle cx="1076.34" cy="1548.50" r="1.6" fill="#000"/>
<circle cx="1087.21" cy="1548.50" r="1.6" fill="#000"/>
<circle cx="1098.07" cy="1548.50" r="1.6" fill="#000"/>
<circle cx="1108.94" cy="1548.50" r="1.6" fill="#000"/>
<circle cx="1119.80" cy="1548.50" r="1.6" fill="#000"/>
<circle cx="598.30" cy="1414.90" r="1.6" fill="#000"/>
<circle cx="609.16" cy="1414.90" r="1.6" fill="#000"/>
<circle cx="620.03" cy="1414.90" r="1.6" fill="#000"/>
<circle cx="630.89" cy="1414.90" r="1.6" fill="#000"/>
<circle cx="641.76" cy="1414.90" r="1.6" fill="#000"/>
<circle cx="652.62" cy="1414.90" r="1.6" fill="#000"/>
<circle cx="663.49" cy="1414.90" r="1.6" fill="#000"/>
<circle cx="674.35" cy="1414.90" r="1.6" fill="#000"/>
<circle cx="685.22" cy="1414.90" r="1.6" fill="#000"/>
<circle cx="696.08" cy="1414.90" r="1.6" fill="#000"/>
<circle cx="706.95" cy="1414.90" r="1.6" fill="#000"/>
<circle cx="717.81" cy="1414.90" r="1.6" fill="#000"/>
<circle cx="728.67" cy="1414.90" r="1.6" fill="#000"/>
<circle cx="739.54" cy="1414.90" r="1.6" fill="#000"/>
<circle cx="750.40" cy="1414.90" r="1.6" fill="#000"/>
<circle cx="761.27" cy="1414.90" r="1.6" fill="#000"/>
<circle cx="772.13" cy="1414.90" r="1.6" fill="#000"/>
<circle cx="783.00" cy="1414.90" r="1.6" fill="#000"/>
<circle cx="793.86" cy="1414.90" r="1.6" fill="#000"/>
<circle cx="804.73" cy="1414.90" r="1.6" fill="#000"/>
<circle cx="815.59" cy="1414.90" r="1.6" fill="#000"/>
<circle cx="826.46" cy="1414.90" r="1.6" fill="#000"/>
<circle cx="837.32" cy="1414.90" r="1.6" fill="#000"/>
<circle cx="848.19" cy="1414.90" r="1.6" fill="#000"/>
<circle cx="1076.34" cy="1414.90" r="1.6" fill="#000"/>
<circle cx="1087.21" cy="1414.90" r="1.6" fill="#000"/>
<circle cx="1098.07" cy="1414.90" r="1.6" fill="#000"/>
<circle cx="1108.94" cy="1414.90" r="1.6" fill="#000"/>
<circle cx="1119.80" cy="1414.90" r="1.6" fill="#000"/>
<polyline points="641.50,1607.40 750.00,1617.10 858.60,1624.80 967.10,1622.20 1075.60,1514.50" fill="none" stroke="#000" stroke-width="3.2" stroke-linejoin="miter"/>
<polyline points="641.50,1490.70 750.00,1418.20 858.60,1469.90 967.10,1437.00 1075.60,1512.50" fill="none" stroke="#000" stroke-width="3.2" stroke-linejoin="miter"/>
<polyline points="641.50,1548.50 750.00,1548.50 858.60,1414.90 967.10,1414.90 1075.60,1414.90" fill="none" stroke="#ff0000" stroke-width="3.4" stroke-linejoin="miter"/>
<polygon points="641.50,1613.90 648.80,1600.90 634.20,1600.90" fill="#000"/>
<polygon points="750.00,1623.60 757.30,1610.60 742.70,1610.60" fill="#ff0000"/>
<polygon points="858.60,1631.30 865.90,1618.30 851.30,1618.30" fill="#000"/>
<polygon points="967.10,1628.70 974.40,1615.70 959.80,1615.70" fill="#000"/>
<polygon points="1075.60,1521.00 1082.90,1508.00 1068.30,1508.00" fill="#000"/>
<rect x="634.25" y="1484.05" width="14.50" height="13.30" fill="#000"/>
<rect x="742.75" y="1411.55" width="14.50" height="13.30" fill="#ff0000"/>
<rect x="851.35" y="1463.25" width="14.50" height="13.30" fill="#000"/>
<rect x="959.85" y="1430.35" width="14.50" height="13.30" fill="#000"/>
<rect x="1068.35" y="1505.85" width="14.50" height="13.30" fill="#000"/>
<ellipse cx="641.50" cy="1548.50" rx="7.20" ry="6.90" fill="#000"/>
<ellipse cx="750.00" cy="1548.50" rx="7.20" ry="6.90" fill="#000"/>
<ellipse cx="858.60" cy="1414.90" rx="7.20" ry="6.90" fill="#00c000"/>
<ellipse cx="967.10" cy="1414.90" rx="7.20" ry="6.90" fill="#000"/>
<ellipse cx="1075.60" cy="1414.90" rx="7.20" ry="6.90" fill="#000"/>
<line x1="1137.10" y1="1296.20" x2="1176.20" y2="1296.20" stroke="#ff0000" stroke-width="3.4" />
<ellipse cx="1156.60" cy="1296.20" rx="7.20" ry="6.90" fill="#000"/>
<line x1="1137.10" y1="1332.80" x2="1176.20" y2="1332.80" stroke="#000" stroke-width="3.2" />
<rect x="1149.35" y="1326.15" width="14.50" height="13.30" fill="#000"/>
<line x1="1137.10" y1="1369.80" x2="1176.20" y2="1369.80" stroke="#000" stroke-width="3.2" />
<polygon points="1156.60,1376.30 1163.90,1363.30 1149.30,1363.30" fill="#000"/>
</g>
<g font-family="'Liberation Sans', Arial, sans-serif" font-weight="bold" font-size="100" fill="#000" style="font-kerning:none">
<text transform="translate(41.37,48.90) scale(0.6126,0.6526)">A</text>
<text transform="translate(84.65,48.90) scale(0.7299,0.6916)">.</text>
<text transform="translate(676.32,82.80) scale(0.2654,0.2471)">ECG</text>
<text transform="translate(678.12,117.30) scale(0.2517,0.2369)">sST2(ng/ml)</text>
<text transform="translate(678.09,154.10) scale(0.2562,0.2413)">NT-proBNP(pmol/L)</text>
<text transform="translate(620.90,199.60) scale(0.2397,0.2442)">Arrhythmia</text>
<text transform="translate(621.03,326.20) scale(0.2503,0.2427)">Normal</text>
<text transform="translate(735.40,260.69) rotate(90) scale(0.2414,0.2704)">ECG</text>
<text transform="translate(30.90,341.70) rotate(-90) scale(0.2539,0.3038)">Patient-1</text>
<text transform="translate(45.00,137.46) scale(0.2595,0.2472)">20</text>
<text transform="translate(45.31,216.56) scale(0.2682,0.2465)">15</text>
<text transform="translate(45.29,295.86) scale(0.2708,0.2458)">10</text>
<text transform="translate(60.17,374.66) scale(0.2693,0.2465)">5</text>
<text transform="translate(59.42,453.76) scale(0.2733,0.2486)">0</text>
<text transform="translate(81.34,483.70) scale(0.2634,0.2500)">Baseline</text>
<text transform="translate(204.64,481.25) scale(0.2348,0.2556)">C1</text>
<text transform="translate(290.13,481.25) scale(0.2614,0.2514)">C2</text>
<text transform="translate(375.74,481.22) scale(0.2589,0.2509)">C3</text>
<text transform="translate(461.56,481.25) scale(0.2541,0.2514)">C4</text>
<text transform="translate(547.04,481.25) scale(0.2588,0.2514)">C5</text>
<text transform="translate(1034.52,46.50) scale(0.5345,0.6454)">B</text>
<text transform="translate(1072.34,46.50) scale(0.7157,0.6648)">.</text>
<text transform="translate(1674.30,74.50) scale(0.2689,0.2471)">ECG</text>
<text transform="translate(1674.29,108.80) scale(0.2588,0.2515)">sST2(ng/ml)</text>
<text transform="translate(1673.84,141.50) scale(0.2625,0.2413)">NT-proBNP(pmol/L)</text>
<text transform="translate(1624.49,193.50) scale(0.2455,0.2486)">Arrhythmia</text>
<text transform="translate(1624.38,323.30) scale(0.2573,0.2515)">Normal</text>
<text transform="translate(1736.00,255.52) rotate(90) scale(0.2517,0.2834)">ECG</text>
<text transform="translate(1018.30,339.60) rotate(-90) scale(0.2692,0.3096)">Patient-2</text>
<text transform="translate(1032.86,149.95) scale(0.2761,0.2580)">15</text>
<text transform="translate(1032.86,251.05) scale(0.2757,0.2514)">10</text>
<text transform="translate(1048.05,352.95) scale(0.2753,0.2537)">5</text>
<text transform="translate(1047.58,454.55) scale(0.2839,0.2585)">0</text>
<text transform="translate(1070.72,482.30) scale(0.2662,0.2587)">Baseline</text>
<text transform="translate(1196.41,482.44) scale(0.2414,0.2669)">C1</text>
<text transform="translate(1284.31,482.44) scale(0.2648,0.2669)">C2</text>
<text transform="translate(1372.41,482.40) scale(0.2647,0.2664)">C3</text>
<text transform="translate(1460.33,482.44) scale(0.2606,0.2669)">C4</text>
<text transform="translate(1548.11,482.44) scale(0.2654,0.2669)">C5</text>
<text transform="translate(48.13,644.26) scale(0.5047,0.6525)">C</text>
<text transform="translate(83.76,644.40) scale(0.7724,0.6916)">.</text>
<text transform="translate(709.23,682.00) scale(0.2792,0.2544)">ECG</text>
<text transform="translate(709.26,720.70) scale(0.2678,0.2602)">sST2(ng/ml)</text>
<text transform="translate(709.29,760.60) scale(0.2708,0.2486)">NT-proBNP(pmol/L)</text>
<text transform="translate(651.27,812.40) scale(0.2528,0.2558)">Arrhythmia</text>
<text transform="translate(651.03,946.80) scale(0.2645,0.2645)">Normal</text>
<text transform="translate(771.80,877.38) rotate(90) scale(0.2566,0.2907)">ECG</text>
<text transform="translate(25.80,963.26) rotate(-90) scale(0.2777,0.3154)">Patient-3</text>
<text transform="translate(40.45,746.64) scale(0.2861,0.2641)">60</text>
<text transform="translate(40.57,858.34) scale(0.2831,0.2613)">40</text>
<text transform="translate(40.63,970.15) scale(0.2807,0.2599)">20</text>
<text transform="translate(56.19,1082.14) scale(0.2818,0.2641)">0</text>
<text transform="translate(88.56,1110.80) scale(0.2757,0.2631)">Baseline</text>
<text transform="translate(236.89,1111.13) scale(0.2472,0.2726)">C1</text>
<text transform="translate(345.58,1110.84) scale(0.2740,0.2669)">C2</text>
<text transform="translate(454.68,1110.80) scale(0.2722,0.2664)">C3</text>
<text transform="translate(563.41,1110.84) scale(0.2662,0.2669)">C4</text>
<text transform="translate(1034.06,644.00) scale(0.6033,0.6526)">D</text>
<text transform="translate(1075.00,644.00) scale(0.7512,0.6983)">.</text>
<text transform="translate(1676.67,702.10) scale(0.2733,0.2456)">ECG</text>
<text transform="translate(1676.79,741.20) scale(0.2590,0.2253)">sST2(ng/ml)</text>
<text transform="translate(1676.75,778.10) scale(0.2620,0.2340)">NT-proBNP(pmol/L)</text>
<text transform="translate(1625.89,823.60) scale(0.2451,0.2486)">Arrhythmia</text>
<text transform="translate(1625.89,953.30) scale(0.2561,0.2427)">Normal</text>
<text transform="translate(1742.60,886.46) rotate(90) scale(0.2448,0.2820)">ECG</text>
<text transform="translate(1020.70,969.28) rotate(-90) scale(0.2655,0.3052)">Patient-4</text>
<text transform="translate(1034.94,759.95) scale(0.2769,0.2542)">20</text>
<text transform="translate(1035.39,841.05) scale(0.2722,0.2594)">15</text>
<text transform="translate(1035.38,921.86) scale(0.2727,0.2500)">10</text>
<text transform="translate(1050.58,1003.25) scale(0.2653,0.2537)">5</text>
<text transform="translate(1050.44,1084.06) scale(0.2691,0.2443)">0</text>
<text transform="translate(1081.42,1111.90) scale(0.2667,0.2500)">Baseline</text>
<text transform="translate(1225.21,1111.96) scale(0.2414,0.2500)">C1</text>
<text transform="translate(1330.32,1111.96) scale(0.2639,0.2500)">C2</text>
<text transform="translate(1435.92,1111.92) scale(0.2631,0.2495)">C3</text>
<text transform="translate(1541.15,1111.96) scale(0.2565,0.2500)">C4</text>
<text transform="translate(537.83,1254.70) scale(0.4741,0.6483)">E</text>
<text transform="translate(569.41,1254.70) scale(0.7653,0.6916)">.</text>
<text transform="translate(1196.72,1304.70) scale(0.2816,0.2515)">ECG</text>
<text transform="translate(1197.16,1341.20) scale(0.2662,0.2311)">sST2(ng/ml)</text>
<text transform="translate(1196.79,1377.40) scale(0.2702,0.2427)">NT-proBNP(pmol/L)</text>
<text transform="translate(1145.67,1423.00) scale(0.2524,0.2587)">Arrhythmia</text>
<text transform="translate(1145.43,1557.20) scale(0.2645,0.2660)">Normal</text>
<text transform="translate(1262.20,1488.01) rotate(90) scale(0.2522,0.2878)">ECG</text>
<text transform="translate(536.20,1573.14) rotate(-90) scale(0.2757,0.3125)">Patient-5</text>
<text transform="translate(552.51,1357.34) scale(0.2795,0.2641)">8</text>
<text transform="translate(552.33,1441.04) scale(0.2917,0.2641)">6</text>
<text transform="translate(552.71,1524.70) scale(0.2595,0.2660)">4</text>
<text transform="translate(552.42,1607.80) scale(0.2825,0.2607)">2</text>
<text transform="translate(552.49,1691.84) scale(0.2818,0.2669)">0</text>
<text transform="translate(585.48,1719.60) scale(0.2724,0.2558)">Baseline</text>
<text transform="translate(732.70,1720.04) scale(0.2447,0.2655)">C1</text>
<text transform="translate(841.20,1720.24) scale(0.2689,0.2712)">C2</text>
<text transform="translate(949.68,1720.20) scale(0.2722,0.2706)">C3</text>
<text transform="translate(1058.42,1720.24) scale(0.2630,0.2712)">C4</text>
</g>
</g>
</svg>
</body></html>
